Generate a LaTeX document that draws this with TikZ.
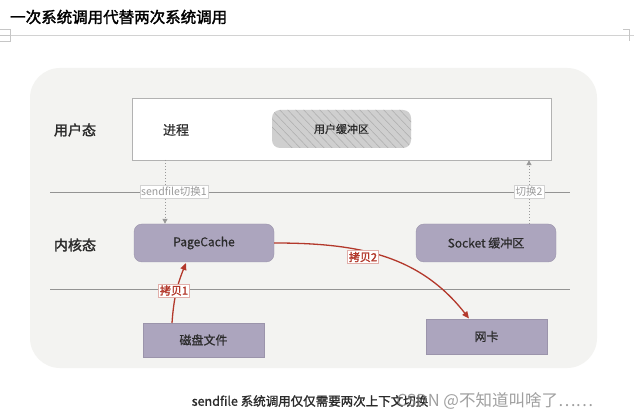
\documentclass[tikz,border=0pt]{standalone}
\usepackage{fontspec}
\setmainfont{Noto Sans CJK SC}
\newfontfamily\cjk{Noto Sans CJK SC}
\newfontfamily\cjkb[FakeBold=2]{Noto Sans CJK SC}
\newfontfamily\cjkm[FakeBold=1.3]{Noto Sans CJK SC}
\newfontfamily\cjkl[FakeBold=0.5]{Noto Sans CJK SC}
\usetikzlibrary{arrows.meta}
\definecolor{bgc}{HTML}{F3F3F1}
\definecolor{boxc}{HTML}{ACA5BE}
\definecolor{redc}{HTML}{B3382B}
\definecolor{txt}{HTML}{2B2B2B}
\definecolor{lgray}{HTML}{999999}
\tikzset{
  lavbox/.style={fill=boxc, draw=boxc!90!black, line width=0.4pt, inner sep=0pt, text=txt, font=\cjkl\fontsize{12}{14}\selectfont},
  statelabel/.style={font=\cjkb\fontsize{14}{16}\selectfont, text=txt},
  sep/.style={draw=gray!85, line width=0.9pt},
  switcharrow/.style={draw=lgray, line width=1pt, dotted, -{Triangle[length=5pt,width=5pt]}},
  switchlabel/.style={draw=gray!35, fill=white, text=lgray, inner sep=1.5pt, font=\cjk\fontsize{10.5}{12}\selectfont},
  copyarrow/.style={draw=redc, line width=1.3pt, -{Triangle[length=7pt,width=6pt]}},
  copylabel/.style={draw=redc!40, fill=white, text=redc, inner sep=1.5pt, font=\cjkb\fontsize{11}{13}\selectfont},
}
\begin{document}
\begin{tikzpicture}[x=1pt,y=-1pt]
\useasboundingbox (0,0) rectangle (634,419);
\fill[white] (0,0) rectangle (634,419);
% header
\node[anchor=west, inner sep=0pt, font=\cjkb\fontsize{15.5}{17}\selectfont, text=black] (title) at (10,17) {一次系统调用代替两次系统调用};
\draw[gray!35, line width=0.8pt] (10,35) -- (634,35);
\draw[gray!45, line width=0.6pt] (0,29) -- (10,29) -- (10,41) -- (0,41);
\draw[gray!45, line width=0.6pt] (0,35) -- (10,35);
\draw[gray!45, line width=0.6pt] (623,29) -- (629,29) -- (629,41);
% background panel
\fill[bgc, rounded corners=30pt] (30,68) rectangle (597,368);
% user space
\node[statelabel] (ulabel) at (75,130) {用户态};
\node[draw=gray!60, fill=white, minimum width=419pt, minimum height=62pt, inner sep=0pt] (user) at (341.5,129) {};
\node[font=\cjkl\fontsize{13}{15}\selectfont, text=txt] (proc) at (176,130) {进程};
\fill[gray!38, rounded corners=8pt] (272,110) rectangle (411,148);
\begin{scope}
  \clip[rounded corners=8pt] (272,110) rectangle (411,148);
  \foreach \i in {0,...,22} {
    \draw[gray!65, line width=0.5pt] ({250+8*\i},104) -- ({250+8*\i+46},152);
  }
\end{scope}
\node[font=\cjkl\fontsize{11}{13}\selectfont, text=txt, inner sep=0pt] (ubuf) at (341.5,129) {用户缓冲区};
% separators
\draw[sep] (50,192) -- (570,192);
\draw[sep] (50,289) -- (570,289);
% kernel
\node[statelabel] (klabel) at (75,245) {内核态};
\node[lavbox, rounded corners=8pt, minimum width=140pt, minimum height=38pt] (pc) at (204,243) {PageCache};
\node[lavbox, rounded corners=8pt, minimum width=140pt, minimum height=38pt] (sock) at (486,243) {Socket 缓冲区};
% hardware
\node[lavbox, minimum width=121pt, minimum height=34pt] (disk) at (203.5,340) {磁盘文件};
\node[lavbox, minimum width=121pt, minimum height=35pt] (nic) at (486.5,336.5) {网卡};
% switches
\coordinate (s1) at (165,160);
\draw[switcharrow] (s1) -- (s1 |- pc.north);
\node[switchlabel] (sw1) at (174,192) {sendfile切换1};
\coordinate (s2) at (529,224);
\draw[switcharrow] (s2) -- (s2 |- user.south);
\node[switchlabel] (sw2) at (529,192) {切换2};
% copies
\coordinate (c1s) at (172,323);
\coordinate (c1e) at (186,263);
\draw[copyarrow] (c1s) to[out=86, in=-112] (c1e);
\node[copylabel] (cp1) at (174,290.5) {拷贝1};
\coordinate (c2e) at (469,318.5);
\draw[copyarrow] (pc.east) to[out=0, in=128] (c2e);
\node[copylabel] (cp2) at (363,257) {拷贝2};
% caption with overlapping watermark, as in the reference
\node[font=\cjkm\fontsize{12.5}{14}\selectfont, text=txt] (cap) at (310,401) {sendfile 系统调用仅仅需要两次上下文切换};
\node[anchor=west, font=\cjk\fontsize{16.5}{18}\selectfont, text=gray, opacity=0.75] (wm) at (393,401) {CSDN @不知道叫啥了⋯⋯};
\end{tikzpicture}
\end{document}
